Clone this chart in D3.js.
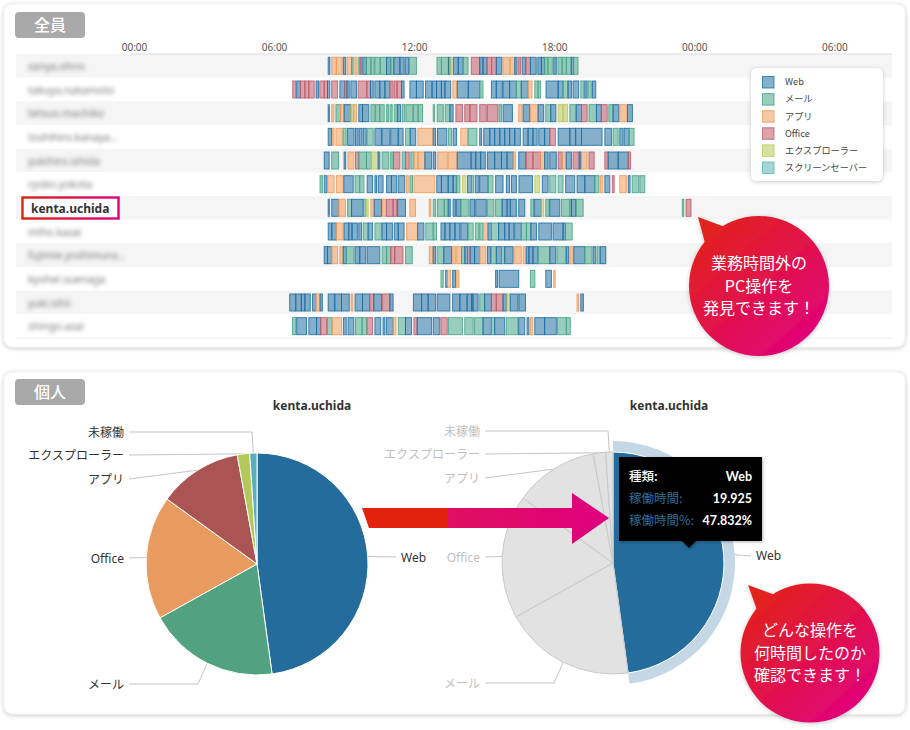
<!DOCTYPE html>
<html><head><meta charset="utf-8">
<script src="https://cdn.jsdelivr.net/npm/d3@7"></script>
<style>
html,body{margin:0;padding:0;background:#fff}
svg{display:block}
text{font-family:Lato,"Noto Sans CJK JP",sans-serif}
text.cjk{font-family:"Noto Sans CJK JP",sans-serif}
text.ns{font-family:"Noto Sans",sans-serif}
.soft{filter:blur(2px)}
</style></head><body><svg id="c" width="910" height="730"></svg>
<script>
const W='Web',M='メール',A='アプリ',O='Office',E='エクスプローラー',S='スクリーンセーバー',U='未稼働';
const legendTypes=[W,M,A,O,E,S];
const typeColors=['#1f6fa3','#45a486','#ee9a58','#bd5a68','#b9c955','#5bb5b5'];
const hourTicks=[0,6,12,18,24,30];
const hourLabels=['00:00','06:00','12:00','18:00','00:00','06:00'];
const userNames=['sanya.ohno','takuya.nakamoto','tetsuo.machiko','toshihiro.kanaya...','yukihiro.ishida','ryoko.yokota','kenta.uchida','miho.kasai','fujimie.yoshimura...','kyohei.suenaga','yuki.ishii','shingo.asai'];

const row01=[[W,8.32,8.39],[A,8.47,8.67],[A,8.67,8.92],[W,8.97,9.07],[A,9.13,9.32],[M,9.32,9.39],[A,9.46,9.56],[M,9.63,9.69],[O,9.69,9.76],[W,9.80,9.96],[M,9.96,10.15],[M,10.15,10.29],[M,10.32,10.53],[M,10.56,10.82],[W,10.82,11.00],[M,11.00,11.13],[W,11.13,11.39],[W,11.39,11.57],[W,11.62,11.77],[M,11.80,12.10],[M,12.98,13.17],[M,13.17,13.47],[W,13.47,13.56],[E,13.56,13.62],[W,13.68,13.89],[W,13.89,14.10],[M,14.10,14.31],[O,14.45,14.81],[W,14.81,14.95],[W,14.95,15.12],[O,15.12,15.32],[O,15.32,15.52],[W,15.52,15.76],[A,15.81,16.09],[A,16.12,16.31],[W,16.31,16.41],[O,16.48,16.56],[W,16.63,16.78],[O,16.80,16.98],[W,16.98,17.23],[W,17.30,17.45],[W,17.45,17.59],[M,17.59,17.73],[M,17.73,17.92],[W,17.98,18.09],[M,18.16,18.34],[M,18.34,18.52],[M,18.52,18.73],[W,18.73,18.83],[M,18.83,19.02]];
const row02=[[O,6.80,6.93],[W,6.97,7.13],[O,7.13,7.32],[O,7.32,7.49],[O,7.49,7.72],[W,7.80,7.90],[O,7.96,8.15],[O,8.15,8.29],[W,8.29,8.39],[O,8.47,8.72],[W,8.82,9.03],[O,9.03,9.12],[W,9.12,9.22],[W,9.29,9.53],[O,9.60,9.96],[O,9.99,10.13],[W,10.13,10.25],[W,10.32,10.53],[W,10.53,10.75],[W,10.75,10.96],[O,11.00,11.10],[O,11.15,11.25],[O,11.29,11.46],[W,11.46,11.57],[W,11.82,12.10],[W,12.10,12.39],[W,12.49,12.75],[W,12.79,12.96],[W,12.96,13.17],[W,13.17,13.32],[W,13.32,13.57],[A,13.66,13.82],[W,13.85,14.32],[W,14.32,14.81],[M,14.81,14.95],[W,15.31,15.52],[W,15.52,15.78],[W,15.81,16.09],[W,16.09,16.38],[M,16.38,16.59],[W,16.59,16.88],[A,16.88,17.05],[M,17.17,17.31],[M,17.31,17.42],[W,17.65,18.17],[W,18.17,18.38],[M,18.38,18.59],[W,18.59,18.74],[W,18.81,19.05],[M,19.14,19.27],[W,19.31,19.41],[M,19.45,19.59],[W,19.64,19.78]];
const row03=[[W,8.32,8.37],[A,8.47,8.56],[M,8.65,8.85],[A,8.85,9.00],[W,9.00,9.29],[E,9.29,9.40],[A,9.40,9.53],[W,9.63,9.79],[W,9.79,10.06],[M,10.15,10.32],[M,10.35,10.53],[M,10.53,10.72],[M,10.82,10.90],[M,10.97,11.06],[M,11.15,11.27],[W,11.29,11.42],[M,11.49,11.60],[M,11.65,11.96],[M,11.96,12.17],[M,12.17,12.36],[M,12.82,12.87],[M,12.99,13.25],[M,13.33,13.53],[W,13.53,13.67],[O,13.79,14.07],[O,14.17,14.39],[O,14.39,14.69],[O,14.81,15.09],[O,15.14,15.59],[M,15.64,15.74],[W,15.81,16.21],[A,16.48,16.62],[W,16.67,16.95],[A,16.98,17.31],[W,17.31,17.55],[M,17.64,17.85],[W,17.85,18.07],[E,18.17,18.38],[E,18.38,18.57],[M,18.67,18.92],[W,18.95,19.17],[O,19.17,19.41],[M,19.49,19.81],[W,19.81,20.02],[O,20.02,20.27],[M,20.34,20.52],[W,20.52,20.77],[A,20.81,21.12],[W,21.14,21.35]];
const row04=[[W,8.32,8.46],[A,8.50,8.57],[A,8.65,8.92],[M,8.96,9.09],[W,9.15,9.43],[W,9.49,9.60],[W,9.65,9.77],[W,9.82,9.95],[M,9.99,10.25],[W,10.32,10.60],[W,10.63,10.96],[W,11.00,11.32],[W,11.32,11.53],[M,11.63,11.83],[W,11.83,12.07],[A,12.16,12.80],[W,12.82,12.92],[W,13.00,13.40],[M,13.47,13.60],[W,13.67,13.82],[A,14.00,14.29],[M,14.32,14.69],[W,14.81,14.89],[W,14.98,15.24],[W,15.24,15.45],[W,15.45,15.67],[W,15.67,15.88],[W,15.88,16.09],[W,16.09,16.31],[W,16.31,16.55],[W,16.67,16.88],[W,16.88,17.09],[W,17.09,17.27],[W,17.34,17.59],[W,17.59,17.81],[O,17.81,18.05],[W,18.17,18.67],[W,18.67,18.92],[W,18.92,19.17],[W,19.17,20.05],[W,20.17,20.45],[M,20.52,20.74],[W,20.81,20.95],[W,21.00,21.21],[M,21.21,21.42]];
const row05=[[W,8.15,8.36],[M,8.47,8.76],[W,9.00,9.07],[A,9.17,9.42],[O,9.49,9.63],[M,9.63,9.96],[M,9.96,10.17],[E,10.17,10.46],[W,10.46,10.53],[M,10.63,10.92],[M,11.00,11.10],[O,11.12,11.39],[M,11.49,11.63],[O,11.63,11.79],[M,11.86,11.99],[A,11.99,12.17],[A,12.17,12.46],[W,12.46,12.75],[W,12.82,12.92],[A,13.00,13.42],[A,13.46,13.82],[W,13.85,14.43],[W,14.45,14.64],[W,14.64,14.85],[W,14.85,15.05],[W,15.14,15.45],[W,15.45,15.74],[W,15.74,15.98],[W,15.98,16.24],[A,16.24,16.34],[W,16.48,16.78],[O,16.81,17.09],[O,17.09,17.41],[A,17.41,17.59],[W,17.59,17.74],[W,17.81,18.09],[O,18.17,18.34],[A,18.34,18.49],[W,18.52,18.74],[O,18.81,19.07],[W,19.07,19.14],[A,19.17,19.41],[O,19.49,19.71],[O,20.17,20.31],[W,20.31,20.74],[W,20.74,21.17],[O,21.17,21.27]];
const row06=[[M,7.97,8.07],[W,8.15,8.27],[A,8.30,8.57],[A,8.67,8.96],[W,8.99,9.39],[M,9.47,9.67],[M,9.67,9.85],[W,9.99,10.22],[W,10.32,10.39],[W,10.46,10.67],[W,10.82,11.03],[W,11.03,11.25],[W,11.32,11.60],[A,11.67,11.75],[M,11.82,11.93],[A,11.99,12.89],[W,12.97,13.17],[W,13.17,13.46],[W,13.46,13.67],[W,13.67,13.82],[M,13.82,13.96],[E,14.07,14.22],[W,14.29,14.46],[M,14.46,14.55],[W,14.62,14.78],[W,14.81,15.17],[M,15.17,15.38],[W,15.49,15.81],[W,15.95,16.09],[W,16.17,16.38],[W,16.49,17.07],[E,17.17,17.38],[W,17.49,17.74],[M,17.81,18.07],[M,18.17,18.38],[W,18.49,18.88],[W,18.98,19.31],[W,19.31,19.74],[M,19.74,19.92],[A,19.98,20.09],[W,20.17,20.38],[O,20.49,20.57],[A,20.81,21.09],[W,21.17,21.25],[M,21.34,21.62],[M,21.67,21.88]];
const row07=[[W,8.32,8.37],[W,8.47,8.77],[A,8.77,9.06],[M,9.15,9.32],[W,9.32,9.82],[M,9.82,9.93],[E,9.93,10.03],[A,10.15,10.29],[W,10.29,10.60],[A,10.65,10.79],[O,10.82,11.10],[O,11.10,11.25],[W,11.29,11.63],[A,11.82,12.06],[A,12.65,12.72],[M,12.82,12.92],[M,13.00,13.29],[M,13.29,13.46],[W,13.46,13.55],[W,13.67,13.77],[W,13.82,14.00],[M,14.00,14.32],[W,14.39,14.59],[W,14.64,15.09],[M,15.14,15.42],[M,15.49,15.77],[W,15.77,15.98],[W,15.98,16.12],[W,16.12,16.38],[W,16.48,16.74],[M,17.00,17.14],[W,17.14,17.45],[E,17.45,17.55],[M,17.64,17.78],[W,17.81,18.24],[M,18.31,18.67],[M,18.67,18.74],[W,18.74,18.92],[M,18.95,19.24],[M,23.49,23.55],[O,23.65,23.86]];
const row08=[[W,8.32,8.46],[W,8.49,8.67],[A,8.67,8.96],[W,9.00,9.20],[W,9.20,9.32],[W,9.36,9.57],[W,9.63,9.75],[M,9.82,10.03],[W,10.03,10.22],[M,10.32,10.60],[W,10.63,10.82],[W,10.82,11.07],[W,11.15,11.32],[W,11.32,11.57],[A,11.67,12.15],[W,12.15,12.42],[M,12.50,12.82],[M,12.82,12.96],[W,13.15,13.32],[W,13.32,13.53],[W,13.53,13.75],[W,13.75,13.96],[W,14.00,14.29],[M,14.32,14.53],[M,14.62,14.78],[M,14.81,14.95],[A,14.98,15.14],[W,15.17,15.31],[M,15.31,15.62],[W,15.62,15.88],[W,15.88,16.07],[W,16.07,16.27],[W,16.31,16.59],[M,16.59,16.81],[M,16.81,17.00],[W,17.00,17.24],[W,17.34,17.88],[W,17.95,18.38],[W,18.38,18.48],[M,18.48,18.77]];
const row09=[[W,8.15,8.29],[W,8.29,8.47],[A,8.47,8.72],[A,8.82,8.96],[W,8.96,9.10],[M,9.10,9.42],[W,9.47,9.67],[W,9.67,9.93],[W,9.99,10.53],[M,10.63,10.82],[M,10.82,11.00],[O,11.00,11.17],[O,11.17,11.52],[M,11.63,11.92],[A,12.65,12.79],[W,12.82,12.92],[M,12.99,13.27],[W,13.27,13.60],[A,13.65,13.77],[A,13.82,14.03],[M,14.03,14.17],[W,14.17,14.29],[O,14.29,14.40],[W,14.40,14.59],[W,14.59,14.81],[A,14.81,15.07],[W,15.14,15.27],[M,15.31,15.52],[W,15.52,15.74],[M,15.74,15.88],[W,15.88,16.24],[A,16.31,16.59],[A,16.67,16.77],[W,16.81,16.92],[W,16.92,17.09],[W,17.09,17.31],[M,17.31,17.81],[W,17.81,18.07],[M,18.12,18.49],[W,18.52,18.62],[A,18.67,18.81],[W,18.84,19.31],[M,19.31,19.62],[W,19.67,19.78],[M,19.84,19.95],[W,19.98,20.21]];
const row10=[[M,13.15,13.25],[W,13.35,13.43],[A,13.43,13.56],[W,13.65,13.77],[A,13.82,13.92],[W,15.49,15.57],[W,15.64,16.48],[M,16.98,17.17],[W,17.64,17.88],[A,17.98,18.04]];
const row11=[[W,6.67,6.93],[W,6.93,7.17],[W,7.17,7.32],[W,7.32,7.55],[W,7.65,7.79],[A,7.79,7.97],[W,7.97,8.07],[W,8.32,8.60],[W,8.60,8.89],[W,8.89,9.22],[A,9.30,9.37],[W,9.47,9.79],[W,9.79,10.10],[O,10.10,10.27],[W,10.27,10.60],[O,10.65,10.96],[W,10.96,11.10],[W,11.97,12.32],[W,12.32,12.60],[W,12.60,12.92],[W,12.99,13.53],[W,13.65,13.96],[W,13.96,14.27],[W,14.27,14.46],[W,14.46,14.52],[W,14.52,14.74],[M,14.81,15.02],[W,15.02,15.31],[O,15.31,15.52],[O,15.52,15.81],[W,15.81,15.95],[E,15.98,16.09],[W,16.12,16.45],[W,16.49,16.77],[A,18.98,19.05],[W,19.14,19.25]];
const row12=[[M,6.79,6.93],[W,6.97,7.39],[W,7.49,7.82],[W,7.82,8.00],[O,8.00,8.25],[M,8.29,8.49],[A,8.49,8.89],[W,8.97,9.09],[W,9.17,9.42],[M,9.49,9.77],[M,9.77,9.96],[O,9.99,10.22],[W,10.32,10.57],[W,10.67,10.75],[W,10.82,11.10],[A,11.10,11.22],[M,11.32,11.63],[W,11.63,11.89],[O,11.99,12.13],[W,12.13,12.75],[W,12.82,13.10],[O,13.15,13.42],[M,13.47,14.07],[M,14.17,14.53],[M,14.59,14.95],[W,14.95,15.31],[M,15.31,15.45],[W,15.45,15.88],[M,15.95,16.45],[W,16.48,16.74],[W,16.84,16.92],[A,16.98,17.09],[W,17.17,17.59],[W,17.59,18.09],[M,18.14,18.52],[M,18.52,18.69]];
const allRows=[row01,row02,row03,row04,row05,row06,row07,row08,row09,row10,row11,row12];

const pieNames=[W,M,'Office','アプリ',E,U];
const pieHours=[19.925,7.96,7.50,5.08,0.75,0.44];
const pieColors=['#246c9b','#52a282','#e99a5f','#ab5454','#b4c95a','#5ab0ba'];

const tipRows=[['種類:','Web'],['稼働時間:','19.925'],['稼働時間%:','47.832%']];
const note1=['業務時間外の','PC操作を','発見できます！'];
const note2=['どんな操作を','何時間したのか','確認できます！'];

const svg=d3.select('#c');
const defs=svg.append('defs');
function grad(id,x1,y1,x2,y2,stops){
  const g=defs.append('linearGradient').attr('id',id).attr('gradientUnits','userSpaceOnUse')
    .attr('x1',x1).attr('y1',y1).attr('x2',x2).attr('y2',y2);
  stops.forEach(s=>g.append('stop').attr('offset',s[0]).attr('stop-color',s[1]));
}
grad('g1',705,225,815,350,[[0,'#e2231a'],[1,'#e0007f']]);
grad('g2',755,595,865,715,[[0,'#e2231a'],[1,'#e0007f']]);
grad('gHi',22,0,119,0,[[0,'#d9260f'],[1,'#e0007f']]);
grad('gAr',362,0,609,0,[[0,'#e2210f'],[.345,'#e2210f'],[.35,'#df0f60'],[1,'#e0007f']]);
const f=defs.append('filter').attr('id','sh').attr('x','-10%').attr('y','-10%').attr('width','120%').attr('height','120%');
f.append('feDropShadow').attr('dx',0).attr('dy',1).attr('stdDeviation',2).attr('flood-color','#000').attr('flood-opacity',.22);
const fs=defs.append('filter').attr('id','sh2').attr('x','-20%').attr('y','-20%').attr('width','140%').attr('height','140%');
fs.append('feDropShadow').attr('dx',1).attr('dy',1).attr('stdDeviation',1.5).attr('flood-color','#000').attr('flood-opacity',.3);

// cards
[[4,4,901,343],[4,372,901,342]].forEach(c=>{
  svg.append('rect').attr('x',c[0]).attr('y',c[1]).attr('width',c[2]).attr('height',c[3]).attr('rx',8)
    .attr('fill','#fff').attr('stroke','#f0f0f0').attr('filter','url(#sh)');
});
[[15,12,'全員'],[15,379,'個人']].forEach(p=>{
  svg.append('rect').attr('x',p[0]).attr('y',p[1]).attr('width',70).attr('height',26).attr('rx',4).attr('fill','#a9a9a9');
  svg.append('text').attr('class','cjk').attr('x',p[0]+35).attr('y',p[1]+19).attr('text-anchor','middle')
    .attr('fill','#fff').attr('font-size',16).attr('font-weight',500).text(p[2]);
});

// timeline
const x=d3.scaleLinear().domain([-0.17,32.47]).range([130,892]);
const y=d3.scaleBand().domain(userNames).range([54,338]);
const color=d3.scaleOrdinal().domain(legendTypes).range(typeColors);
svg.append('g').selectAll('rect').data(userNames).join('rect')
  .attr('x',16).attr('width',876).attr('y',d=>y(d)).attr('height',y.bandwidth())
  .attr('fill',(d,i)=>i%2?'#fff':'#f5f5f5');
svg.append('line').attr('x1',16).attr('x2',892).attr('y1',338).attr('y2',338).attr('stroke','#eee');
const ax=svg.append('g').attr('transform','translate(0,53.5)')
  .call(d3.axisTop(x).tickValues(hourTicks).tickFormat((d,i)=>hourLabels[i]).tickSize(0).tickPadding(3));
ax.select('.domain').attr('stroke','#ddd');
ax.selectAll('text').attr('class','ns').attr('fill','#555').attr('font-size',10);
svg.append('g').attr('class','soft').selectAll('text').data(userNames.filter(n=>n!=='kenta.uchida')).join('text')
  .attr('class','ns').attr('x',28).attr('y',d=>y(d)+y.bandwidth()/2+4).attr('font-size',10.5).attr('fill','#777').text(d=>d);
svg.append('rect').attr('x',22.5).attr('y',197.5).attr('width',96).attr('height',21)
  .attr('fill','#fff').attr('stroke','url(#gHi)').attr('stroke-width',2.4);
svg.append('text').attr('class','ns').attr('x',31).attr('y',212.5).attr('font-size',12).attr('font-weight',700).attr('fill','#333').text('kenta.uchida');
allRows.forEach((r,i)=>{
  svg.append('g').selectAll('rect').data(r).join('rect')
    .attr('x',d=>x(d[1])).attr('width',d=>Math.max(.5,x(d[2])-x(d[1])))
    .attr('y',y(userNames[i])+y.bandwidth()/2-8.5).attr('height',17)
    .attr('fill',d=>color(d[0])).attr('fill-opacity',.55)
    .attr('stroke',d=>color(d[0])).attr('stroke-opacity',.85).attr('stroke-width',1);
});
// legend
svg.append('rect').attr('x',751).attr('y',68).attr('width',132).attr('height',113).attr('rx',6).attr('fill','#fff').attr('filter','url(#sh)');
const lg=svg.append('g').selectAll('g').data(legendTypes).join('g').attr('transform',(d,i)=>`translate(762,${76+i*17.1})`);
lg.append('rect').attr('x',.5).attr('y',.5).attr('width',11.5).attr('height',11.5)
  .attr('fill',d=>color(d)).attr('fill-opacity',.55).attr('stroke',d=>color(d)).attr('stroke-opacity',.8);
lg.append('text').attr('class','cjk').attr('x',23).attr('y',9.3).attr('font-size',9.2).attr('fill','#444').text(d=>d);

// pies
const pie=d3.pie().sort(null).value(d=>d)(pieHours);
const R=111;
const arc=d3.arc().innerRadius(0).outerRadius(R);
const polar=(a,r)=>[Math.sin(a)*r,-Math.cos(a)*r];
const mid=d=>(d.startAngle+d.endAngle)/2;
const labelLayout=[{side:1,ly:-7},{side:-1,ly:120,ex:-59},{side:-1,ly:-6},{side:-1,ly:-85},{side:-1,ly:-109},{side:-1,ly:-132,ex:-5}];
const lineGen=d3.line();
function drawPie(cx,cy,title,focus,titleX){
  const g=svg.append('g').attr('transform',`translate(${cx},${cy})`);
  svg.append('text').attr('class','ns').attr('x',titleX).attr('y',410).attr('text-anchor','middle').attr('font-size',12).attr('font-weight',700)
    .attr('fill','#333').text(title);
  const lines=g.append('g');
  if(focus){
    g.append('path').attr('d',d3.arc().innerRadius(R).outerRadius(R+11)(pie[0])).attr('fill',pieColors[0]).attr('fill-opacity',.27);
  }
  g.selectAll('path.s').data(pie).join('path').attr('class','s').attr('d',arc)
    .attr('fill',(d,i)=>focus&&i>0?'#e2e2e2':pieColors[i])
    .attr('stroke',(d,i)=>focus&&i>0?'#c9c9c9':'#fff').attr('stroke-width',1);
  pie.forEach((d,i)=>{
    const L=labelLayout[i];
    const faded=focus&&i>0;
    const p0=polar(mid(d),focus&&i===0?R+11:R);
    const lx=L.side>0?(focus?R+27:R+28):-R-17;
    const pts=[[lx,L.ly]];
    if(L.ex!==undefined)pts.push([L.ex,L.ly]);
    pts.push(p0);
    lines.append('path').attr('d',lineGen(pts)).attr('fill','none').attr('stroke','#c4c4c4').attr('stroke-width',1);
    g.append('text').attr('class','ns').attr('x',L.side>0?lx+5:lx-5).attr('y',L.ly+(focus&&i===0?4:5)).attr('text-anchor',L.side>0?'start':'end')
      .attr('font-size',12).attr('fill',faded?'#c0c0c0':'#333')
      .style('font-family','"Noto Sans","Noto Sans CJK JP",sans-serif').text(pieNames[i]);
  });
}
drawPie(257,564,'kenta.uchida',false,312);
drawPie(613,563,'kenta.uchida',true,669);

// arrow
svg.append('path').attr('d',d3.line()([[362,508],[572,508],[572,493],[609,518],[572,544],[572,528],[369,528]])+'Z').attr('fill','url(#gAr)');

// tooltip
const tip=svg.append('g');
tip.append('path').attr('d',d3.line()([[619,457],[762,457],[762,541],[696,541],[689,548],[682,541],[619,541]])+'Z').attr('fill','#000').attr('filter','url(#sh2)');
tipRows.forEach((r,i)=>{
  const ty=481+i*22;
  tip.append('text').attr('class','cjk').attr('x',629).attr('y',ty).attr('font-size',12.5).attr('font-weight',i?400:500)
    .attr('fill',i?'#2a6f9f':'#fff').text(r[0]);
  tip.append('text').attr('x',752).attr('y',ty).attr('text-anchor','end').attr('font-size',12.5).attr('font-weight',700)
    .attr('fill','#fff').text(r[1]);
});

// callouts
function bubble(cx,cy,r,tail,fill,lines){
  const g=svg.append('g');
  const inner=g.append('g').attr('filter','url(#sh)');
  inner.append('circle').attr('cx',cx).attr('cy',cy).attr('r',r).attr('fill',fill);
  inner.append('path').attr('d',d3.line()(tail)+'Z').attr('fill',fill);
  lines.forEach((t,i)=>g.append('text').attr('class','cjk').attr('x',cx).attr('y',cy+(i-1)*22.5+5.5)
    .attr('text-anchor','middle').attr('fill','#fff').attr('font-size',16).text(t));
}
bubble(759,286,70,[[698,217],[725,227],[705,243]],'url(#g1)',note1);
bubble(810,653,69.5,[[748,585],[775,595],[757,610]],'url(#g2)',note2);
</script></body></html>
